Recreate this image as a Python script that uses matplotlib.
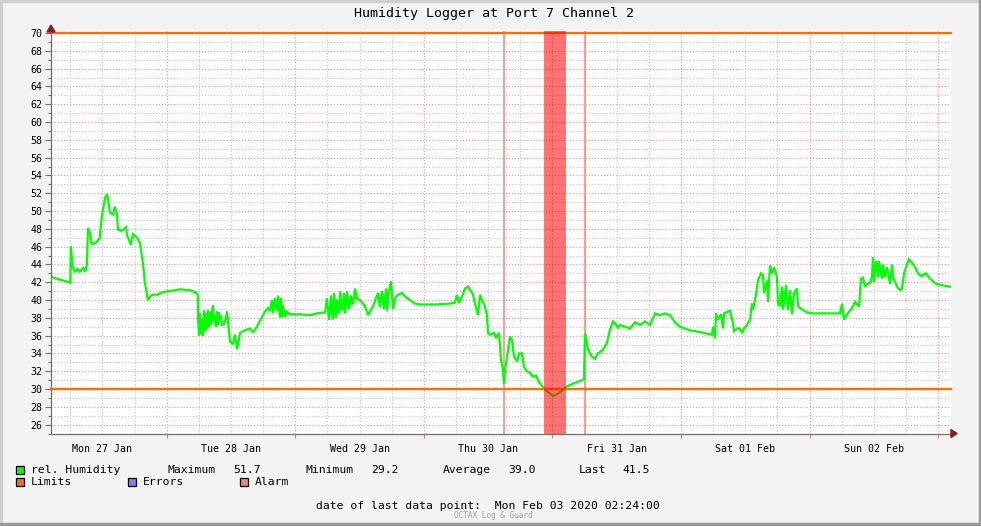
import numpy as np
import matplotlib
matplotlib.use("Agg")
import matplotlib.pyplot as plt
from matplotlib.patches import Rectangle, Polygon

# hours since Mon 27 Jan 2020 00:00 -> relative humidity (%)
hours = [
    2.4, 4.0, 5.8, 6.0, 6.1, 6.4, 6.9, 7.4, 7.8, 8.4, 8.8, 9.1, 9.3, 9.7, 9.9, 10.1, 10.6, 10.9, 11.5, 11.9,
    12.5, 12.9, 13.1, 13.4, 14.0, 14.3, 14.7, 14.9, 15.7, 16.4, 16.6, 17.3, 17.7, 18.5, 19.0, 19.6, 19.9, 20.3,
    20.5, 20.9, 21.4, 22.2, 23.3, 25.5, 26.5, 28.4, 29.6, 29.8,
    29.84, 30.03, 30.21, 30.40, 30.59, 30.77, 30.96, 31.15, 31.33, 31.52, 31.71, 31.89, 32.08, 32.27, 32.45,
    32.64, 32.83, 33.01, 33.20, 33.39, 33.57, 33.76, 33.95, 34.13, 34.32, 34.69, 35.07, 35.25, 35.44, 35.81,
    36.37, 36.75, 37.12, 37.31, 37.68, 38.61, 39.55, 40.11, 40.85, 41.41, 42.35, 42.91, 43.28, 43.65, 43.84,
    44.21, 44.59, 44.77, 45.15, 45.33, 45.52, 45.71, 46.08, 46.45, 47.01, 48.88, 50.75, 52.05, 53.55, 53.92, 54.29,
    54.48, 54.67, 55.04, 55.23, 55.60, 55.79, 56.16, 56.35, 56.72, 57.09, 57.28, 57.65, 58.03, 58.40, 58.77,
    59.15, 59.52, 60.08, 61.01, 61.57, 62.51, 63.44, 63.81, 64.19, 64.56, 64.93, 65.12, 65.49, 65.87, 66.24,
    66.61, 67.17, 67.92, 68.48, 69.41, 70.35, 71.28, 74.08, 76.88, 77.81, 78.19, 78.56, 79.12, 79.68, 80.24,
    80.80, 81.17, 81.55, 82.11, 82.48, 82.85, 83.41, 83.79, 83.97, 84.35, 85.09, 85.47, 86.03, 86.40, 86.77,
    86.96, 87.15, 87.52, 88.08, 88.45, 88.83, 89.39, 89.76, 90.32, 90.69, 91.25, 91.81, 92.37, 92.93, 93.49,
    94.24, 94.61, 95.55, 96.11, 97.04, 97.97, 98.72, 99.84, 101.15, 101.89, 102.08, 102.45, 102.64, 103.39,
    103.95, 104.51, 105.44, 106.19, 106.75, 107.31, 107.68, 108.24, 108.61, 109.55, 110.49, 111.41, 112.35,
    113.28, 114.22, 115.15, 116.08, 117.01, 117.95, 118.88, 119.81, 121.68, 123.55, 125.79, 125.97, 126.35,
    126.53, 126.91, 127.47, 127.84, 128.03, 128.77, 129.15, 129.71, 129.89, 130.45, 131.01, 131.39, 131.76,
    132.32, 132.88, 133.25, 133.44, 134.00, 134.37, 134.93, 135.31, 135.49, 136.05, 136.24, 136.61, 136.99,
    137.36, 137.92, 138.11, 138.48, 138.85, 139.04, 139.60, 139.97, 140.35, 140.72, 141.09, 141.65, 141.84,
    142.21, 142.77, 143.52, 144.64, 146.51, 149.68, 150.05, 150.43, 150.99, 151.92, 152.48, 152.85, 153.23,
    153.60, 153.97, 154.35, 154.72, 155.28, 155.65, 155.84, 156.03, 156.40, 156.77, 156.96, 157.52, 157.71,
    158.08, 158.45, 159.01, 159.39, 159.57, 160.32, 160.88, 161.25, 161.63, 162.19, 162.56, 163.12, 163.68,
    164.25, 164.81, 165.73, 166.48, 167.41, 168.35, 170.2,
]
humidity = [
    42.6, 42.3, 42.0, 42.0, 46.0, 43.8, 43.2, 43.5, 43.2, 43.6, 43.2, 44.0, 48.1, 47.5, 46.5, 46.3, 46.4, 46.5, 47.0, 49.5,
    51.5, 51.9, 51.0, 49.8, 49.6, 50.5, 49.7, 47.9, 47.8, 48.2, 47.3, 46.2, 47.4, 47.0, 46.4, 44.0, 42.0, 40.7,
    40.0, 40.4, 40.6, 40.6, 40.9, 41.1, 41.2, 41.1, 40.8, 40.5,
    38.0, 36.0, 38.5, 36.2, 37.8, 36.0, 38.8, 36.5, 38.5, 36.8, 38.9, 37.0, 38.6, 37.2, 38.8,
    39.4, 37.5, 38.2, 37.0, 38.7, 37.2, 38.6, 37.8, 38.2, 37.2, 37.3, 38.0, 38.7, 37.6, 35.3,
    35.1, 36.1, 34.5, 35.0, 36.3, 36.6, 36.8, 36.4, 37.0, 37.7, 38.7, 39.1, 38.8, 40.0, 38.5,
    40.2, 38.8, 40.5, 38.0, 40.2, 38.1, 39.4, 38.1, 38.7, 38.4, 38.4, 38.3, 38.5, 38.6, 40.2, 37.8,
    38.5, 40.5, 37.8, 40.8, 38.0, 40.0, 38.5, 41.0, 38.8, 40.8, 38.5, 41.0, 39.0, 40.5, 39.5,
    41.3, 40.2, 40.0, 39.3, 38.3, 39.3, 40.8, 39.2, 41.0, 39.0, 41.3, 38.8, 41.0, 42.1, 39.0,
    40.2, 40.6, 40.8, 40.4, 40.0, 39.6, 39.5, 39.5, 39.6, 39.7, 40.6, 39.7, 40.4, 41.3, 41.5,
    41.0, 40.6, 39.6, 38.3, 40.6, 40.0, 39.3, 38.2, 36.3, 36.1, 36.3, 35.8, 36.3, 33.3, 32.1,
    30.6, 32.1, 33.6, 35.9, 35.5, 33.6, 33.1, 34.0, 34.0, 32.5, 32.0, 31.8, 31.4, 31.5, 30.8,
    30.2, 29.9, 29.5, 29.2, 29.5, 29.9, 30.3, 30.6, 30.9, 31.1, 36.3, 35.0, 34.4, 33.6,
    33.4, 34.0, 34.4, 35.2, 36.7, 37.6, 37.4, 36.9, 37.2, 37.0, 36.8, 37.5, 37.2,
    37.6, 37.2, 38.5, 38.3, 38.5, 38.3, 37.5, 37.0, 36.6, 36.4, 36.1, 37.0, 35.7,
    38.5, 37.8, 38.4, 36.8, 38.5, 38.7, 38.8, 37.4, 36.5, 36.8, 36.8, 36.3, 36.8,
    37.2, 37.8, 39.6, 38.9, 40.6, 42.2, 43.0, 42.8, 40.8, 42.2, 39.8, 43.9, 43.0,
    43.7, 42.6, 39.6, 39.3, 41.5, 38.9, 41.7, 38.9, 41.1, 38.4, 40.8, 41.3, 39.3,
    39.1, 38.9, 38.6, 38.5, 38.5, 38.5, 39.6, 37.8, 38.4, 39.1, 39.8, 39.5, 39.3,
    42.4, 42.5, 41.5, 41.8, 41.9, 42.6, 44.8, 42.0, 44.4, 42.6, 44.4, 42.4, 44.0,
    42.6, 43.7, 41.8, 44.0, 42.6, 41.5, 41.1, 41.3, 43.0, 44.0, 44.6, 44.2, 43.7,
    43.0, 42.7, 43.0, 42.4, 41.9, 41.7, 41.5,
]

limits = [30, 70]
alarm_lines = [86.96, 102.08]
alarm_span = (94.43, 98.53)
x_start, x_end = 2.4, 170.4

day_labels = ["Mon 27 Jan", "Tue 28 Jan", "Wed 29 Jan", "Thu 30 Jan",
              "Fri 31 Jan", "Sat 01 Feb", "Sun 02 Feb"]
stats = [("Maximum", "51.7"), ("Minimum", "29.2"), ("Average", "39.0"), ("Last", "41.5")]

GREEN = "#00FF00"
ORANGE = "#FF6F00"
BLUE = "#7F7FFF"
ALARM = "#FF7F7F"
BG = "#F3F3F3"

plt.rcParams["font.family"] = ["DejaVu Sans Mono"]

W, H = 981, 526
fig = plt.figure(figsize=(W / 100, H / 100), dpi=100)
fig.patch.set_facecolor(BG)

# outer shaded frame
fig.patches.append(Rectangle((0, 1 - 2 / H), 1, 2 / H, transform=fig.transFigure, color="#CFCFCF", zorder=0))
fig.patches.append(Rectangle((0, 0), 2 / W, 1, transform=fig.transFigure, color="#CFCFCF", zorder=0))
fig.patches.append(Rectangle((1 - 2 / W, 0), 2 / W, 1, transform=fig.transFigure, color="#9A9A9A", zorder=0))
fig.patches.append(Rectangle((0, 0), 1, 3 / H, transform=fig.transFigure, color="#9A9A9A", zorder=0))

px_per_unit = (433.5 - 33) / 45.0
y_top = 70 + 2 / px_per_unit
ax = fig.add_axes([51 / W, (H - 433.5) / H, 900 / W, (433.5 - 31) / H])
ax.set_facecolor("white")
ax.set_xlim(x_start, x_end)
ax.set_ylim(25, y_top)

# grid
dot = (0, (1, 1.6))
for y in range(26, 71):
    col = "#DDA0A0" if y % 2 == 0 else "#C8C8C8"
    ax.axhline(y, color=col, lw=0.85, ls=dot, zorder=1)
for h in range(6, 171, 6):
    col = "#DDA0A0" if h % 24 == 0 else "#C8C8C8"
    ax.axvline(h, color=col, lw=0.85, ls=dot, zorder=1)

for x in alarm_lines:
    ax.axvline(x, color=ALARM, lw=1.1, zorder=2)

ax.plot(hours, humidity, color=GREEN, lw=1.6, zorder=3, solid_joinstyle="miter")

for y in limits:
    ax.axhline(y, color=ORANGE, lw=1.7, zorder=4, clip_on=False)

ax.axvspan(alarm_span[0], alarm_span[1], color="red", alpha=0.55, lw=0, zorder=5)

# axes
for s in ["top", "right"]:
    ax.spines[s].set_visible(False)
for s in ["left", "bottom"]:
    ax.spines[s].set_color("#707070")
    ax.spines[s].set_linewidth(0.9)
    ax.spines[s].set_zorder(6)

ax.set_yticks(range(26, 71, 2))
ax.set_yticks(range(25, 71, 1), minor=True)
ax.set_xticks(range(24, 169, 24))
ax.set_xticks([], minor=True)
ax.set_xticklabels([])
ax.tick_params(axis="y", which="major", length=4, width=0.8, color="#707070",
               labelsize=7.2, pad=2, labelcolor="black")
ax.tick_params(axis="y", which="minor", length=2, width=0.8, color="#707070")
ax.tick_params(axis="x", which="major", length=3, width=0.8, color="#E08080")

for i, lab in enumerate(day_labels):
    ax.text(12 + 24 * i, -0.025, lab, transform=ax.get_xaxis_transform(),
            ha="center", va="top", fontsize=7.2)

# arrow heads
ax.add_patch(Polygon([(951 / W, (H - 429.5) / H), (951 / W, (H - 437.5) / H), (957 / W, (H - 433.5) / H)],
                     closed=True, transform=fig.transFigure, color="#8B1A1A", clip_on=False, zorder=7))
ax.add_patch(Polygon([(47 / W, (H - 32) / H), (55 / W, (H - 32) / H), (51 / W, (H - 25) / H)],
                     closed=True, transform=fig.transFigure, color="#8B1A1A", clip_on=False, zorder=7))

fig.text(494 / W, 1 - 13 / H, "Humidity Logger at Port 7 Channel 2", ha="center", va="center", fontsize=9.6)


def legend_box(x, y, color):
    fig.patches.append(Rectangle((x / W, 1 - (y + 4) / H), 8 / W, 8 / H, transform=fig.transFigure,
                                 facecolor=color, edgecolor="black", lw=0.9))


row1, row2 = 470, 482
legend_box(16, row1, GREEN)
fig.text(31 / W, 1 - row1 / H, "rel. Humidity", va="center", fontsize=8.2)
stat_x = [(168, 233), (305, 371), (443, 508), (579, 622)]
for (name, val), (xn, xv) in zip(stats, stat_x):
    fig.text(xn / W, 1 - row1 / H, name, va="center", fontsize=8.2)
    fig.text(xv / W, 1 - row1 / H, val, va="center", fontsize=8.2)

for (x, color, name) in [(16, ORANGE, "Limits"), (128, BLUE, "Errors"), (240, ALARM, "Alarm")]:
    legend_box(x, row2, color)
    fig.text((x + 15) / W, 1 - row2 / H, name, va="center", fontsize=8.2)

fig.text(316 / W, 1 - 506 / H, "date of last data point:  Mon Feb 03 2020 02:24:00", va="center", fontsize=8.2)
fig.text(493 / W, 1 - 515 / H, "OCTAX Log & Guard", ha="center", va="center", fontsize=5.6, color="#A0A0A0")

fig.savefig("out.png", dpi=100, facecolor=BG)
